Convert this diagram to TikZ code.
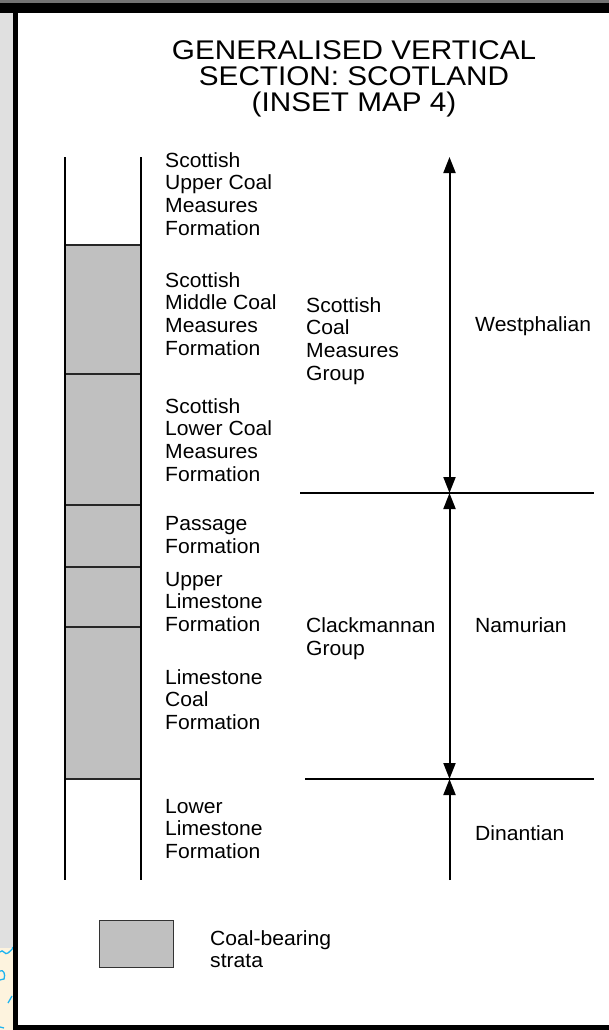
\documentclass[tikz,border=0pt]{standalone}
\usepackage{fontspec}
\setmainfont{Liberation Sans}[FakeStretch=1.03]
\newfontfamily\titlefont{Liberation Sans}[FakeStretch=1.1]
\usetikzlibrary{arrows.meta}
\definecolor{coal}{HTML}{C0C0C0}
\definecolor{strip}{HTML}{E0E0E0}
\definecolor{cream}{HTML}{FDF3DE}
\definecolor{coast}{HTML}{1EB4F0}
\newcommand\lns[1]{\vtop{\baselineskip=22.8pt\lineskiplimit=-100pt\halign{##\hfil\cr#1\crcr}}}
\newcommand\clns[1]{\vtop{\baselineskip=25.6pt\lineskiplimit=-100pt\halign{\hfil##\hfil\cr#1\crcr}}}
\tikzset{
  lbl/.style={anchor=base west, inner sep=0pt, font=\fontsize{20.5pt}{22.8pt}\selectfont},
  col/.style={line width=2pt, black},
  bnd/.style={line width=1.6pt, black!85},
  rule/.style={line width=2pt, black},
  arr/.style={line width=2pt, black, -{Triangle[length=16pt,width=12pt]}},
  arrb/.style={line width=2pt, black, {Triangle[length=16pt,width=12pt]}-{Triangle[length=16pt,width=12pt]}},
}
\begin{document}
\begin{tikzpicture}[x=1pt,y=-1pt]
\useasboundingbox (0,0) rectangle (609,1030);
% frame
\fill[white] (0,0) rectangle (609,1030);
\fill[strip] (0,13) rectangle (13.3,1030);
\fill[cream] (0,948) rectangle (13.3,1030);
\draw[coast, line width=1.3pt] (0,952) .. controls (3,948) and (5,956) .. (8,953) .. controls (10,950) and (12,951) .. (13,947);
\draw[coast, line width=1.3pt] (0,971) .. controls (3,969) and (6,974) .. (4,979) .. controls (2,981) and (1,978) .. (0,980);
\draw[coast, line width=1.3pt] (8,1003) -- (12,996);
\draw[coast, line width=1.3pt] (0,1027) -- (4,1028);
\fill[black!55] (0,0) rectangle (609,2.7);
\fill[black] (0,2.7) rectangle (609,12.7);
\fill[black] (13.3,12.7) rectangle (18.3,1030);
\fill[black] (13.3,1025) rectangle (609,1030);
% title
\node[inner sep=0pt, anchor=base, font=\titlefont\fontsize{27pt}{25.6pt}\selectfont] (title) at (354,60)
  {\clns{GENERALISED VERTICAL\cr SECTION: SCOTLAND\cr (INSET MAP 4)}};
% column
\fill[coal] (64.5,245) rectangle (141,779);
\coordinate (ctl) at (64.5,157); \coordinate (cbl) at (64.5,880);
\coordinate (ctr) at (141,157); \coordinate (cbr) at (141,880);
\foreach \y in {245,374,505,567,627,779} \draw[bnd] (64.5,\y) -- (141,\y);
\draw[col] (ctl) -- (cbl);
\draw[col] (ctr) -- (cbr);
% formation labels
\node[lbl] (f1) at (165,167) {\lns{Scottish\cr Upper Coal\cr Measures\cr Formation}};
\node[lbl] (f2) at (165,287) {\lns{Scottish\cr Middle Coal\cr Measures\cr Formation}};
\node[lbl] (f3) at (165,413) {\lns{Scottish\cr Lower Coal\cr Measures\cr Formation}};
\node[lbl] (f4) at (165,530.5) {\lns{Passage\cr Formation}};
\node[lbl] (f5) at (165,586) {\lns{Upper\cr Limestone\cr Formation}};
\node[lbl] (f6) at (165,684) {\lns{Limestone\cr Coal\cr Formation}};
\node[lbl] (f7) at (165,813) {\lns{Lower\cr Limestone\cr Formation}};
% groups
\node[lbl] (g1) at (306,312) {\lns{Scottish\cr Coal\cr Measures\cr Group}};
\node[lbl] (g2) at (306,632.5) {\lns{Clackmannan\cr Group}};
% stages
\node[lbl] (s1) at (475,331.5) {Westphalian};
\node[lbl] (s2) at (475,632.5) {Namurian};
\node[lbl] (s3) at (475,840) {Dinantian};
% boundaries
\coordinate (b1l) at (300,493); \coordinate (b1r) at (594,493);
\coordinate (b2l) at (305,779); \coordinate (b2r) at (594,779);
\draw[rule] (b1l) -- (b1r);
\draw[rule] (b2l) -- (b2r);
% arrows
\coordinate (atop) at (449.5,157);
\coordinate (a1) at (449.5,493);
\coordinate (a2) at (449.5,779);
\coordinate (abot) at (449.5,880);
\draw[arrb] (a1) -- (atop);
\draw[arrb] (a1) -- (a2);
\draw[arr] (abot) -- (a2);
% legend
\node[draw=black!80, line width=1pt, fill=coal, minimum width=74pt, minimum height=47pt, inner sep=0pt, anchor=north west] (key) at (99,920) {};
\node[lbl] (keyl) at (210,945) {\lns{Coal-bearing\cr strata}};
\end{tikzpicture}
\end{document}
